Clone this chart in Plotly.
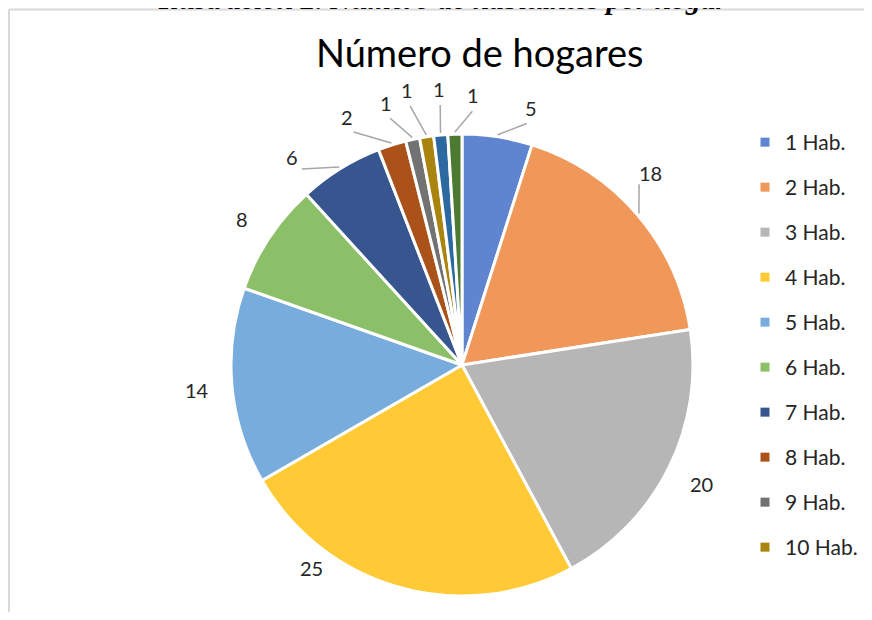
"""
Pie chart: number of inhabitants per household
"""

import math
import plotly.graph_objects as go

# data
labels = ['1 Hab.', '2 Hab.', '3 Hab.', '4 Hab.', '5 Hab.', '6 Hab.',
          '7 Hab.', '8 Hab.', '9 Hab.', '10 Hab.', '11 Hab.', '12 Hab.']
values = [5, 18, 20, 25, 14, 8, 6, 2, 1, 1, 1, 1]
colors = ['#5F85D0', '#F0985A', '#B6B6B6', '#FFCA36', '#78ACDD', '#8BBF68',
          '#37558F', '#AA5219', '#727272', '#A9840F', '#2C69A1', '#4D7A33']
legend_count = 10  # Excel legend only shows the first ten entries

title_text = 'Número de hogares'
caption_text = '<b><i>Ilustración 2. Número de habitantes por hogar</i></b>'

# label layout (Excel "best fit" moves some labels off the slice middle)
label_shift = [6.2, -5.0, 0, 20.7, 0, 0, -7.5, -7.3, -3.9, -2.5, 0.5, 4.1]   # degrees
label_r = [266, 269, 268, 253, 266, 264, 269, 273, 273, 280, 277, 270]       # px
has_leader = [True, True, False, False, False, False, True, True, True, True, True, True]

# page geometry: the plot div sits 8px in from the browser's top-left,
# figure kept a bit smaller than the window so the page does not overflow
W, H, OFF = 856, 604, 8
CX, CY, R = 462, 365, 231  # pie centre / radius in window pixels


def px_x(x):
    return (x - OFF) / W


def px_y(y):
    return 1 - (y - OFF) / H


fig = go.Figure()

# the pie itself
fig.add_trace(go.Pie(
    labels=labels, values=values, sort=False, direction='clockwise', rotation=0,
    marker=dict(colors=colors, line=dict(color='white', width=3)),
    textinfo='none',
    domain=dict(x=[px_x(CX - R), px_x(CX + R)], y=[px_y(CY + R), px_y(CY - R)]),
    showlegend=False, hoverinfo='label+value',
))

# legend entries drawn with empty scatter traces so only ten show up
for i in range(legend_count):
    fig.add_trace(go.Scatter(
        x=[None], y=[None], mode='markers', name=labels[i],
        marker=dict(symbol='square', size=9, color=colors[i]),
        legendgroup=str(i), showlegend=True,
    ))

# data labels + leader lines, placed from each slice's mid angle
annotations = []
shapes = []
total = sum(values)
cum = 0
for i, v in enumerate(values):
    mid = (cum + v / 2) / total * 360
    cum += v
    ang = math.radians(mid + label_shift[i])
    lx = CX + label_r[i] * math.sin(ang)
    ly = CY - label_r[i] * math.cos(ang)
    annotations.append(dict(
        text=str(v), x=px_x(lx), y=px_y(ly), xref='paper', yref='paper',
        xanchor='center', yanchor='middle', showarrow=False,
        font=dict(family='Lato', size=20, color='#262626'),
    ))
    if has_leader[i]:
        a0 = math.radians(mid)
        x0, y0 = CX + (R + 2) * math.sin(a0), CY - (R + 2) * math.cos(a0)
        x1 = CX + (label_r[i] - 16) * math.sin(ang)
        y1 = CY - (label_r[i] - 16) * math.cos(ang)
        shapes.append(dict(type='line', xref='paper', yref='paper',
                           x0=px_x(x0), y0=px_y(y0), x1=px_x(x1), y1=px_y(y1),
                           line=dict(color='#A6A6A6', width=1.5)))

# chart title and the (cut off) document caption above the chart
annotations.append(dict(text=title_text, x=px_x(480), y=px_y(52), xref='paper', yref='paper',
                        xanchor='center', yanchor='middle', showarrow=False,
                        font=dict(family='Lato', size=38, color='#000000')))
annotations.append(dict(text=caption_text, x=px_x(442), y=px_y(16.5), xref='paper', yref='paper',
                        xanchor='center', yanchor='bottom', showarrow=False,
                        font=dict(family='Liberation Serif', size=29.5, color='#000000')))

# chart frame (only top and left edges are visible), kept inside the figure
shapes.append(dict(type='line', xref='paper', yref='paper', x0=px_x(9), x1=1,
                   y0=px_y(9.5), y1=px_y(9.5), line=dict(color='#D9D9D9', width=2)))
shapes.append(dict(type='line', xref='paper', yref='paper', x0=px_x(9), x1=px_x(9),
                   y0=px_y(9.5), y1=0, line=dict(color='#D9D9D9', width=2)))

fig.update_layout(
    width=W, height=H,
    margin=dict(l=0, r=0, t=0, b=0),
    paper_bgcolor='white', plot_bgcolor='white',
    xaxis=dict(visible=False), yaxis=dict(visible=False),
    font=dict(family='Lato', color='#262626'),
    legend=dict(x=px_x(745), y=px_y(122), xanchor='left', yanchor='top',
                font=dict(size=21, color='#262626'), tracegroupgap=14.7,
                itemwidth=30, bgcolor='rgba(0,0,0,0)'),
    annotations=annotations,
    shapes=shapes,
)

fig.write_html("out.html")
